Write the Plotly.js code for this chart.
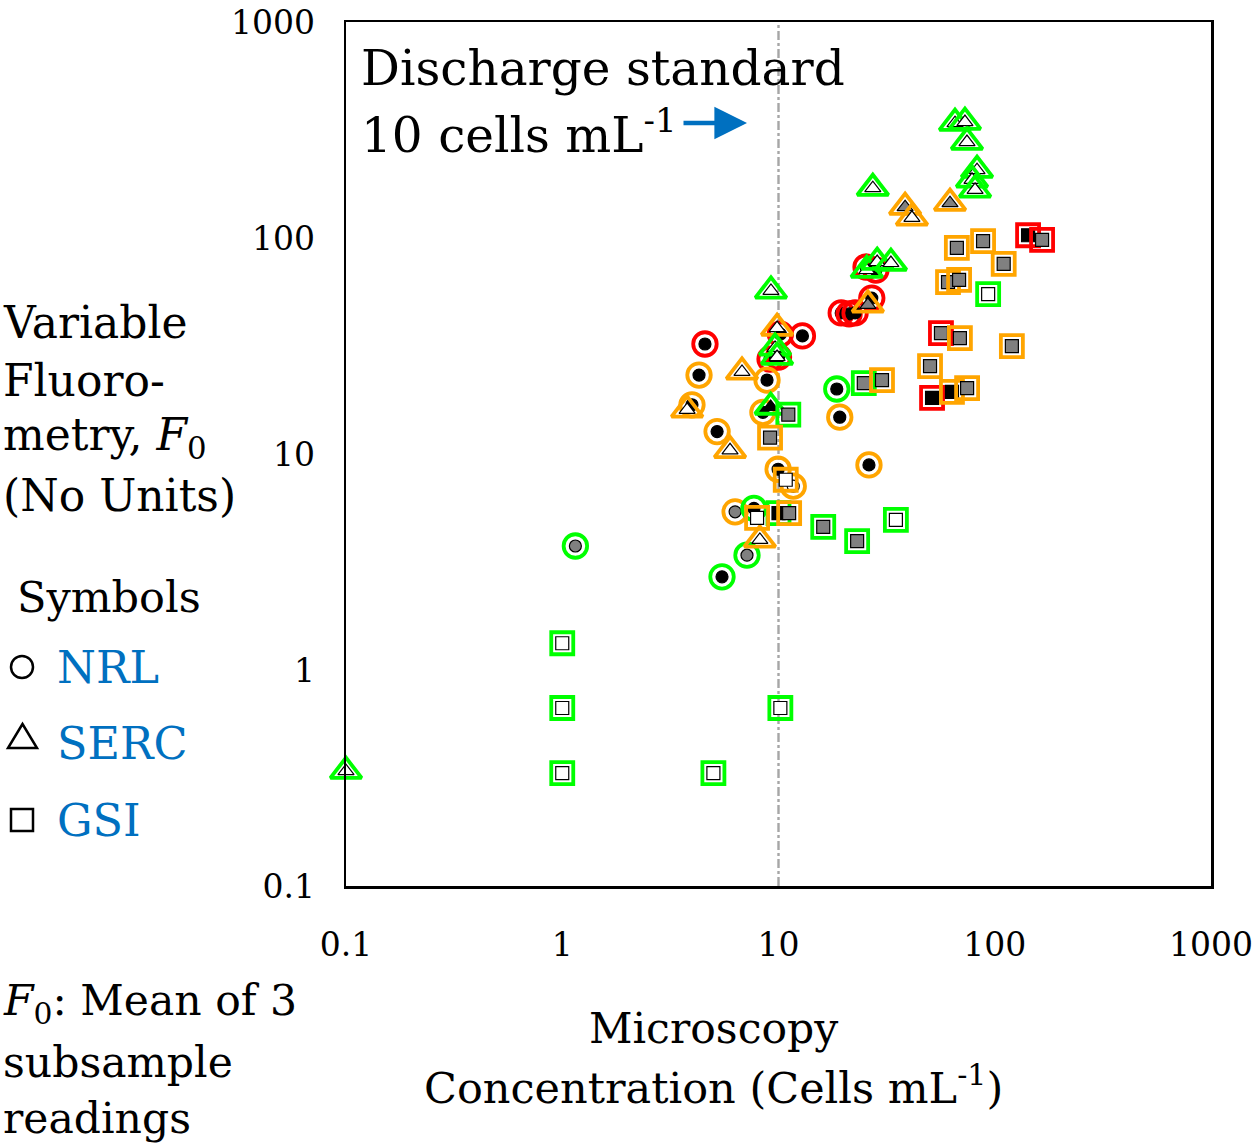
<!DOCTYPE html>
<html>
<head>
<meta charset="utf-8">
<script src="https://cdn.plot.ly/plotly-3.0.1.min.js"></script>
<style>body{margin:0;background:#fff}#chart{width:1259px;height:1146px}</style>
</head>
<body>
<div id="chart"></div>
<script>
// ---- Data ----
// outline codes: R = red, O = orange, G = green ; fill codes: K = black, M = gray, W = white
const nrlX = [4.57, 4.29, 3.98, 5.2, 12.9, 9.14, 10.0, 10.2, 8.85, 8.47, 18.6, 19.2, 26.2, 9.96, 11.7, 6.3, 7.7, 7.15, 5.48, 1.15, 19.5, 21.2, 22.6, 27.0, 25.4, 28.2];
const nrlY = [32.3, 23.2, 16.9, 12.7, 35.2, 27.5, 28.1, 35.9, 22.0, 15.6, 20.0, 14.8, 8.9, 8.5, 7.1, 5.4, 5.6, 3.4, 2.7, 3.75, 45, 44.5, 45, 52.7, 73.4, 71];
const nrlEdge = ['R','O','O','O','R','R','R','R','O','O','G','O','O','O','O','O','G','G','G','G','R','R','R','R','R','R'];
const nrlFill = ['K','K','K','K','K','K','K','K','K','K','K','K','K','K','W','M','K','M','K','M','K','K','K','K','K','K'];

const sercX = [0.1, 9.23, 9.85, 9.64, 9.85, 6.78, 3.78, 9.2, 5.97, 8.2, 27.3, 65.5, 72.8, 74.4, 82.8, 78.5, 81.1, 38.5, 41.4, 62.1, 25.6, 28.6, 33.1, 25.9];
const sercY = [0.34, 56.9, 38.3, 31, 28.1, 24.0, 16.0, 16.5, 10.4, 4.0, 170, 340, 344, 278, 206, 186, 167, 139, 124, 145, 71, 77.4, 76.6, 49];
const sercEdge = ['G','G','O','G','G','O','O','G','O','O','G','G','G','G','G','G','G','O','O','O','G','G','G','O'];
const sercFill = ['W','W','W','W','W','W','W','K','W','W','W','W','W','W','W','W','W','M','W','M','W','W','W','M'];

const gsiX = [1.0, 1.0, 1.0, 5.0, 10.2, 34.9, 16.1, 23.1, 10.0, 11.2, 7.96, 10.8, 11.1, 9.14, 24.8, 30.1, 66.8, 88.3, 110, 142.6, 165.5, 60.8, 68.4, 93.2, 56.4, 69, 120, 50.2, 51.3, 63.4, 74.5];
const gsiY = [1.33, 0.667, 0.333, 0.333, 0.667, 4.95, 4.6, 3.95, 5.33, 5.33, 5.06, 7.6, 15.2, 11.9, 21.3, 22.0, 90, 96.8, 75.9, 103, 98, 62.5, 64, 55, 36.3, 34.4, 31.6, 25.5, 18.2, 19.4, 20.2];
const gsiEdge = ['G','G','G','G','G','G','G','G','G','O','O','O','G','O','G','O','O','O','O','R','R','O','O','G','R','O','O','O','R','O','O'];
const gsiFill = ['W','W','W','W','W','W','M','M','K','M','W','W','M','M','M','M','M','M','M','K','M','M','M','W','M','M','M','M','K','K','M'];

const tickVals = [0.1, 1, 10, 100, 1000];
const tickText = ['0.1', '1', '10', '100', '1000'];
const standardX = 10;

// ---- Styles ----
const edgeColor = {R: '#FF0000', O: '#FFA500', G: '#00FF00'};
const fillColor = {K: '#000000', M: '#808080', W: '#FFFFFF'};
const FONT = 'DejaVu Serif';

const groups = [
  {x: nrlX, y: nrlY, e: nrlEdge, f: nrlFill, sym: 'circle', outer: 23.5, inner: 12},
  {x: sercX, y: sercY, e: sercEdge, f: sercFill, sym: 'triangle-up', outer: 27, inner: 14},
  {x: gsiX, y: gsiY, e: gsiEdge, f: gsiFill, sym: 'square', outer: 22, inner: 13}
];

const traces = [];
groups.forEach(g => {
  g.x.forEach((xv, i) => {
    traces.push({
      type: 'scatter', mode: 'markers', x: [xv], y: [g.y[i]], cliponaxis: false, hoverinfo: 'skip',
      marker: {symbol: g.sym + '-open', size: g.outer, color: edgeColor[g.e[i]], line: {width: 3.8, color: edgeColor[g.e[i]]}}
    });
    traces.push({
      type: 'scatter', mode: 'markers', x: [xv], y: [g.y[i]], cliponaxis: false, hoverinfo: 'skip',
      marker: {symbol: g.sym, size: g.inner, color: fillColor[g.f[i]], line: {width: 1.2, color: '#000'}}
    });
  });
});

// pixel -> paper helpers (plot area 346..1211 x 22..886)
const L = 346, R = 1211, T = 22, B = 886;
const px = v => (v - L) / (R - L);
const py = v => 1 - (v - T) / (B - T);

function ann(text, x, y, xanchor, size, color) {
  return {text: text, xref: 'paper', yref: 'paper', x: px(x), y: py(y), xanchor: xanchor, yanchor: 'middle',
          showarrow: false, font: {family: FONT, size: size, color: color || '#000'}};
}

const annotations = [
  ann('Discharge standard', 359, 68, 'left', 48.5),
  ann('10 cells mL<sup>-1</sup>', 359, 131, 'left', 48.5),
  ann('Variable', 1, 322, 'left', 44),
  ann('Fluoro-', 1, 380, 'left', 44),
  ann('metry, <i>F</i><sub>0</sub>', 1, 438, 'left', 44),
  ann('(No Units)', 1, 495, 'left', 44),
  ann('Symbols', 15, 597, 'left', 43),
  ann('NRL', 55, 667, 'left', 44.5, '#0070C0'),
  ann('SERC', 55, 743, 'left', 44.5, '#0070C0'),
  ann('GSI', 55, 820, 'left', 44.5, '#0070C0'),
  ann('<i>F</i><sub>0</sub>: Mean of 3', 1, 1003, 'left', 42.5),
  ann('subsample', 1, 1062, 'left', 42.5),
  ann('readings', 1, 1118, 'left', 42.5),
  ann('Microscopy', 713, 1028, 'center', 42.5),
  ann('Concentration (Cells mL<sup>-1</sup>)', 713, 1085, 'center', 43),
  {text: '', xref: 'paper', yref: 'paper', x: px(747), y: py(123), ax: -65, ay: 0, showarrow: true,
   arrowhead: 2, arrowsize: 1.45, arrowwidth: 4.5, arrowcolor: '#0070C0'}
];

const shapes = [
  {type: 'line', xref: 'x', yref: 'paper', x0: standardX, x1: standardX, y0: 0, y1: 1,
   line: {color: '#A6A6A6', width: 2.4, dash: 'dashdot'}, layer: 'below'},
  {type: 'circle', xref: 'paper', yref: 'paper', x0: px(11), x1: px(33), y0: py(678), y1: py(656), line: {color: '#000', width: 2.5}},
  {type: 'path', xref: 'paper', yref: 'paper',
   path: 'M' + px(8) + ',' + py(748) + ' L' + px(37) + ',' + py(748) + ' L' + px(22.5) + ',' + py(724) + ' Z', line: {color: '#000', width: 2.5}},
  {type: 'rect', xref: 'paper', yref: 'paper', x0: px(11), x1: px(33), y0: py(831), y1: py(809), line: {color: '#000', width: 2.5}}
];

const axisCommon = {
  type: 'log', range: [-1, 3], tickvals: tickVals, ticktext: tickText, showgrid: false, zeroline: false,
  showline: true, linewidth: 2.5, linecolor: '#000', mirror: true, ticks: '',
  tickfont: {family: FONT, size: 33, color: '#000'}
};

const layout = {
  width: 1259, height: 1146, margin: {l: L, r: 1259 - R, t: T, b: 1146 - B},
  paper_bgcolor: '#fff', plot_bgcolor: '#fff', showlegend: false,
  xaxis: Object.assign({}, axisCommon, {ticklabelstandoff: 28}),
  yaxis: Object.assign({}, axisCommon, {ticklabelstandoff: 22}),
  annotations: annotations, shapes: shapes
};

Plotly.newPlot('chart', traces, layout, {staticPlot: true});
</script>
</body>
</html>
